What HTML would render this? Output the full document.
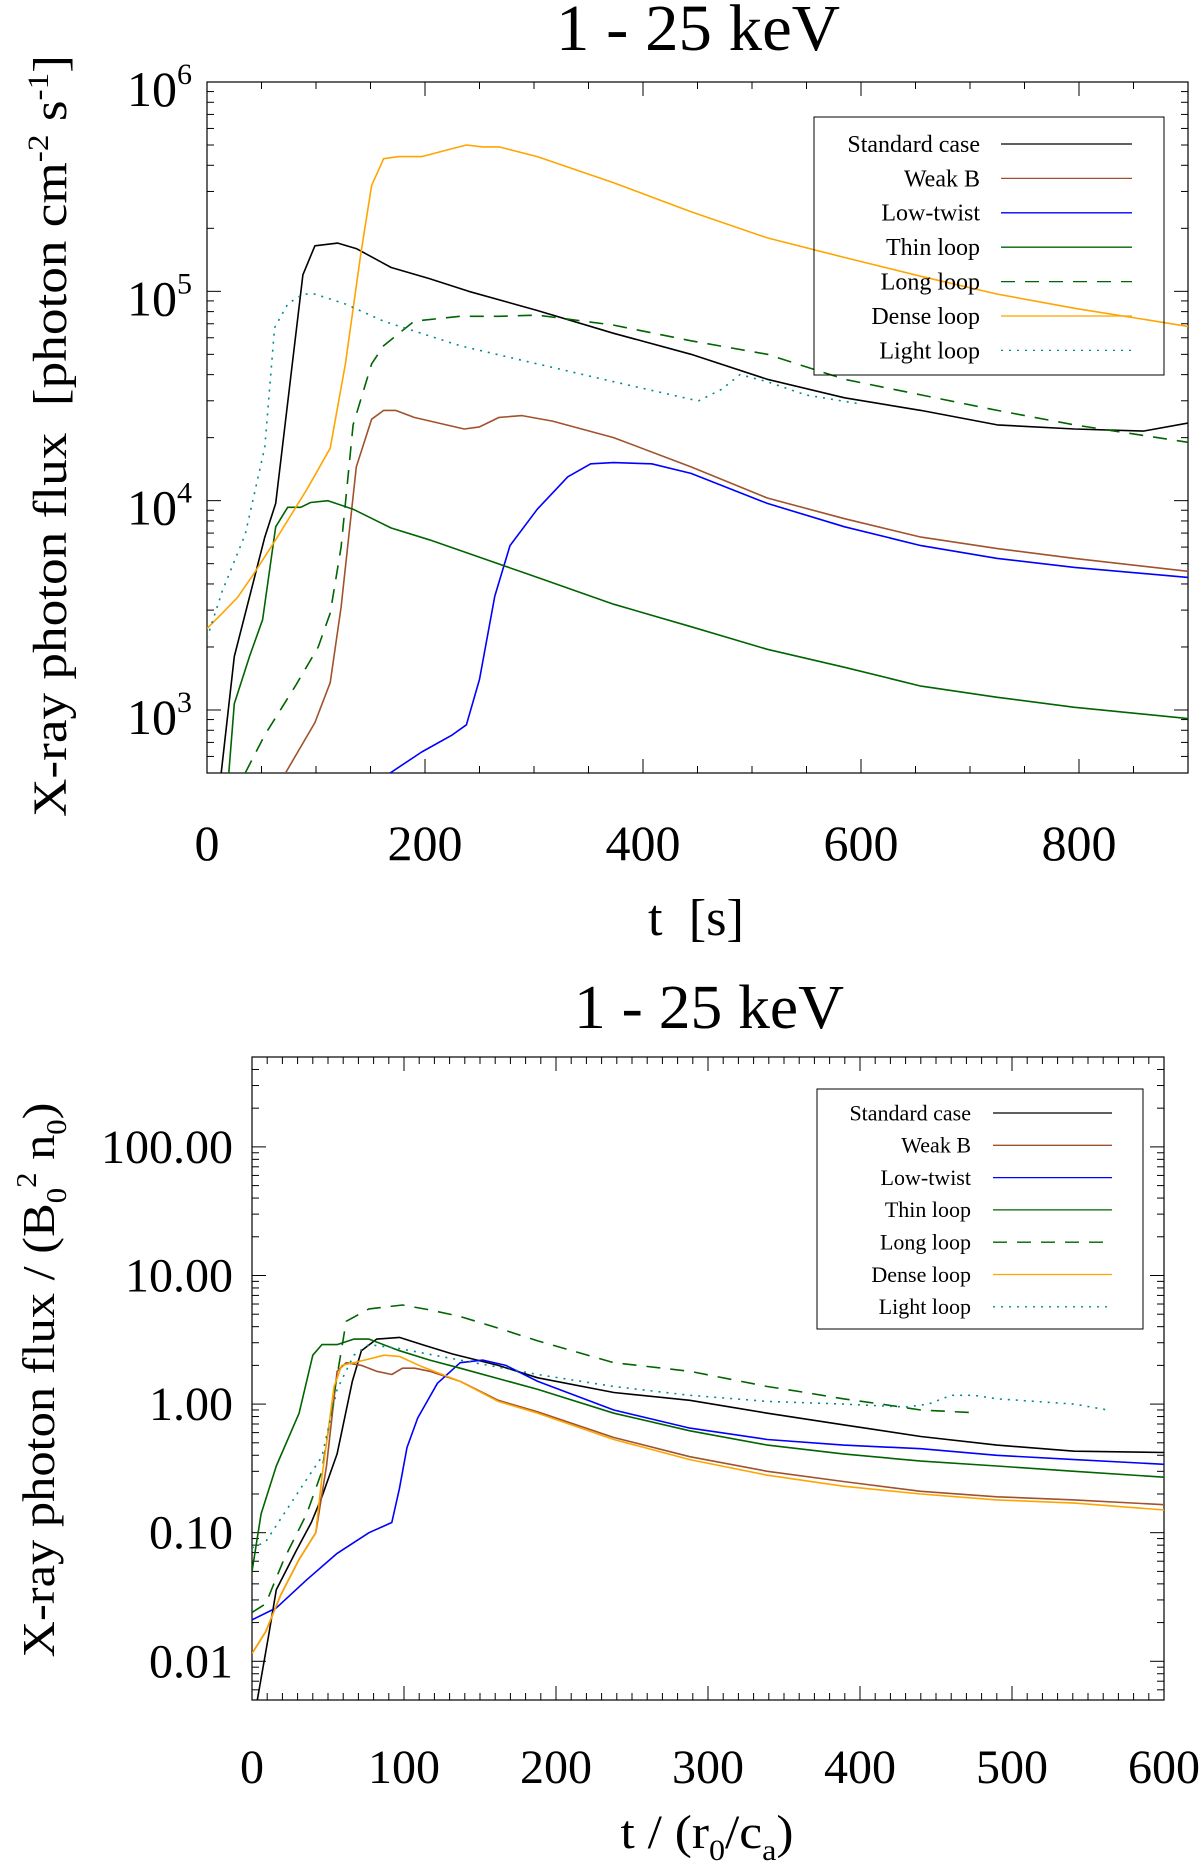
<!DOCTYPE html>
<html><head><meta charset="utf-8">
<style>
html,body{margin:0;padding:0;background:#fff;}
svg{display:block;font-family:"Liberation Serif",serif;}
</style></head>
<body>
<svg id="chart" width="1200" height="1869" viewBox="0 0 1200 1869" xmlns="http://www.w3.org/2000/svg">
<defs>
<clipPath id="clipTop"><rect x="207" y="82" width="981" height="691"/></clipPath>
<clipPath id="clipBot"><rect x="252" y="1057" width="912" height="643"/></clipPath>
</defs>
<rect width="1200" height="1869" fill="#fff"/>
<g id="top"></g>
<g id="bot"></g>
</svg>
<script>
const seriesNames = ["Standard case","Weak B","Low-twist","Thin loop","Long loop","Dense loop","Light loop"];
const topTicksX = [0,200,400,600,800];
const topTicksYExp = [3,4,5,6];
const botTicksX = [0,100,200,300,400,500,600];
const botTickLabelsY = ["0.01","0.10","1.00","10.00","100.00"];
const botTicksY = [0.01,0.1,1,10,100];

const topT_std = [13,25,53,63,88,99,120,137,169,204,240,303,373,444,514,585,655,725,796,859,900];
const topF_std = [500,1800,6700,9700,120000,165000,170000,160000,130000,115000,100000,81000,63000,50000,38000,31000,27000,23000,22000,21500,23500];
const topT_weak = [72,99,113,123,137,151,162,173,190,236,250,268,289,317,373,444,514,585,655,725,796,900];
const topF_weak = [500,870,1350,3100,14500,24500,27000,27000,25000,22000,22500,25000,25500,24000,20000,14500,10300,8200,6700,5900,5300,4600];
const topT_low = [168,197,225,238,250,264,278,303,331,352,373,408,444,514,585,655,725,796,900];
const topF_low = [500,630,760,850,1400,3500,6100,9100,13000,15000,15200,15000,13500,9700,7500,6100,5300,4800,4300];
const topT_thin = [20,25,39,51,63,74,86,95,111,134,169,204,253,303,373,444,514,585,655,725,796,900];
const topF_thin = [500,1070,1800,2700,7500,9300,9300,9800,10000,9100,7400,6500,5300,4300,3200,2500,1950,1600,1300,1150,1030,910];
const topT_long = [35,53,81,102,113,123,134,151,162,190,232,268,303,373,444,514,585,655,725,796,900];
const topF_long = [500,760,1300,2000,2900,6000,23000,45000,55000,72000,76000,76000,77000,69000,58000,50000,38000,32000,27000,23000,19000];
const topT_dense = [0,14,28,42,63,92,113,127,141,151,162,176,197,218,238,253,268,303,373,444,514,585,655,725,796,900];
const topF_dense = [2450,2900,3450,4400,6500,11400,17800,45000,150000,320000,430000,440000,440000,470000,500000,490000,490000,440000,330000,240000,180000,145000,118000,97000,83000,68000];
const topT_light = [0,14,35,53,62,74,88,99,127,162,232,303,373,444,451,472,489,514,549,599];
const topF_light = [2200,3700,6900,18000,67000,87000,97000,97000,87000,72000,55000,45000,37000,30500,30000,34000,40000,37000,32000,29000];

const botT_std = [3.5,11,16,29,39,46,56,66,72,82,97,112,132,162,188,238,288,339,389,440,490,541,600];
const botF_std = [0.005,0.016,0.036,0.072,0.12,0.19,0.41,1.5,2.6,3.2,3.3,2.9,2.45,2.0,1.6,1.23,1.07,0.85,0.69,0.56,0.48,0.43,0.42];
const botT_weak = [0,9,19,31,42,49,56,62,72,82,92,99,107,117,137,162,188,238,288,339,389,440,490,541,600];
const botF_weak = [0.0115,0.017,0.033,0.062,0.1,0.33,1.8,2.1,2.0,1.8,1.7,1.9,1.9,1.8,1.5,1.07,0.87,0.55,0.39,0.3,0.25,0.21,0.19,0.18,0.165];
const botT_low = [0,16,36,56,77,92,97,102,109,122,137,152,167,188,238,288,339,389,440,490,541,600];
const botF_low = [0.021,0.026,0.043,0.069,0.1,0.12,0.22,0.46,0.78,1.45,2.1,2.2,2.0,1.5,0.9,0.65,0.53,0.48,0.45,0.4,0.37,0.34];
const botT_thin = [0,6,16,31,40,46,56,67,77,97,117,137,188,238,288,339,389,440,490,541,600];
const botF_thin = [0.05,0.14,0.33,0.85,2.4,2.9,2.9,3.2,3.2,2.6,2.2,1.9,1.3,0.85,0.62,0.48,0.41,0.36,0.33,0.3,0.27];
const botT_long = [0,9,21,36,46,54,62,77,99,117,137,162,188,238,288,339,364,389,414,440,472];
const botF_long = [0.024,0.028,0.062,0.14,0.3,1.2,4.4,5.5,5.9,5.4,4.8,3.9,3.1,2.1,1.8,1.37,1.23,1.1,1.0,0.9,0.86];
const botT_dense = [0,9,19,31,42,46,54,59,67,74,87,97,112,137,162,188,238,288,339,389,440,490,541,600];
const botF_dense = [0.0115,0.017,0.033,0.062,0.1,0.27,1.37,2.0,2.1,2.2,2.4,2.35,1.95,1.5,1.05,0.85,0.53,0.37,0.28,0.23,0.2,0.18,0.17,0.15];
const botT_light = [0,9,21,36,46,56,67,77,97,137,188,238,288,339,389,430,445,460,475,490,541,563];
const botF_light = [0.076,0.085,0.14,0.26,0.39,1.3,2.4,2.9,2.7,2.2,1.7,1.37,1.17,1.05,1.0,0.95,1.0,1.17,1.17,1.1,1.0,0.9];

const NS = "http://www.w3.org/2000/svg";
function mk(parent, tag, attrs){
  const e = document.createElementNS(NS, tag);
  for (const k in attrs) e.setAttribute(k, attrs[k]);
  parent.appendChild(e);
  return e;
}
const styles = [
  {c:"#000000", d:""},
  {c:"#a0522d", d:""},
  {c:"#0000ff", d:""},
  {c:"#006400", d:""},
  {c:"#006400", d:"14 10"},
  {c:"#ffa500", d:""},
  {c:"#008b8b", d:"2 6"}
];

function panel(g, cfg){
  const L=cfg.L,R=cfg.R,T=cfg.T,B=cfg.B;
  const sx = v => L + (v - cfg.xmin)/(cfg.xmax - cfg.xmin)*(R-L);
  const sy = v => B - (Math.log10(v) - cfg.lmin)/(cfg.lmax - cfg.lmin)*(B-T);
  const fr = mk(g,"rect",{x:L,y:T,width:R-L,height:B-T,fill:"none",stroke:"#000","stroke-width":1.2});
  
  
  for (let v=cfg.xmin; v<=cfg.xmax+1e-9; v+=cfg.xminor){
    const major = Math.abs(v/cfg.xmajor - Math.round(v/cfg.xmajor))<1e-6;
    const len = major?14:7;
    const x = sx(v);
    mk(g,"line",{x1:x,y1:B,x2:x,y2:B-len,stroke:"#000","stroke-width":1});
    mk(g,"line",{x1:x,y1:T,x2:x,y2:T+len,stroke:"#000","stroke-width":1});
  }
  cfg.xticks.forEach(v=>{
    const t = mk(g,"text",{x:sx(v),y:cfg.xlabY,"text-anchor":"middle","font-size":cfg.tickFs});
    t.textContent = v;
    
    
  });
  for (let e=Math.floor(cfg.lmin); e<=Math.ceil(cfg.lmax); e++){
    for (let m=1;m<10;m++){
      const v = m*Math.pow(10,e);
      const lv = Math.log10(v);
      if (lv < cfg.lmin-1e-9 || lv > cfg.lmax+1e-9) continue;
      const len = m===1?14:7;
      const y = sy(v);
      mk(g,"line",{x1:L,y1:y,x2:L+len,y2:y,stroke:"#000","stroke-width":1});
      mk(g,"line",{x1:R,y1:y,x2:R-len,y2:y,stroke:"#000","stroke-width":1});
    }
  }
  cfg.yTickLabels(g, sy);
  const cg = mk(g,"g",{"clip-path":"url(#"+cfg.clip+")"});
  cfg.series.forEach((s,i)=>{
    const ts=s[0], fs=s[1];
    let d="";
    for (let k=0;k<ts.length;k++) d += (k?"L":"M")+sx(ts[k]).toFixed(1)+","+sy(fs[k]).toFixed(1);
    const p = mk(cg,"path",{d:d,fill:"none",stroke:styles[i].c,"stroke-width":1.6,"stroke-linejoin":"round"});
    if (styles[i].d) p.setAttribute("stroke-dasharray", styles[i].d);
    
    
  });
  const lg = cfg.leg;
  const lb = mk(g,"rect",{x:lg.x1,y:lg.y1,width:lg.x2-lg.x1,height:lg.y2-lg.y1,fill:"none",stroke:"#000","stroke-width":1});
  
  
  seriesNames.forEach((n,i)=>{
    const y = lg.y0 + i*lg.dy;
    const t = mk(g,"text",{x:lg.tx,y:y+lg.fs*0.33,"text-anchor":"end","font-size":lg.fs});
    t.textContent = n;
    
    
    const ln = mk(g,"line",{x1:lg.lx1,y1:y,x2:lg.lx2,y2:y,stroke:styles[i].c,"stroke-width":1.3});
    if (styles[i].d) ln.setAttribute("stroke-dasharray", styles[i].d);
  });
}

const gTop = document.getElementById("top");
panel(gTop,{
  id:"top", L:207,R:1188,T:82,B:773,xmin:0,xmax:900,lmin:Math.log10(500),lmax:6,
  xminor:50,xmajor:200,xticks:topTicksX,xlabY:860,tickFs:50,clip:"clipTop",
  series:[[topT_std,topF_std],[topT_weak,topF_weak],[topT_low,topF_low],[topT_thin,topF_thin],[topT_long,topF_long],[topT_dense,topF_dense],[topT_light,topF_light]],
  yTickLabels:(g,sy)=>{
    topTicksYExp.forEach(e=>{
      const t = mk(g,"text",{x:192,y:sy(Math.pow(10,e))+24,"text-anchor":"end","font-size":50});
      
      
      const a = mk(t,"tspan",{}); a.textContent="10";
      const b = mk(t,"tspan",{dy:-22,"font-size":30}); b.textContent=e;
    });
  },
  leg:{x1:814,y1:117,x2:1164,y2:375,y0:144,dy:34.4,tx:980,lx1:1001,lx2:1132,fs:24}
});

const gBot = document.getElementById("bot");
panel(gBot,{
  id:"bottom", L:252,R:1164,T:1057,B:1700,xmin:0,xmax:600,lmin:Math.log10(0.005),lmax:Math.log10(500),
  xminor:10,xmajor:100,xticks:botTicksX,xlabY:1783,tickFs:48,clip:"clipBot",
  series:[[botT_std,botF_std],[botT_weak,botF_weak],[botT_low,botF_low],[botT_thin,botF_thin],[botT_long,botF_long],[botT_dense,botF_dense],[botT_light,botF_light]],
  yTickLabels:(g,sy)=>{
    botTicksY.forEach((v,i)=>{
      const t = mk(g,"text",{x:233,y:sy(v)+16,"text-anchor":"end","font-size":48});
      t.textContent = botTickLabelsY[i];
      
      
    });
  },
  leg:{x1:817,y1:1089,x2:1143,y2:1329,y0:1113,dy:32.3,tx:971,lx1:993,lx2:1112,fs:22}
});

function txt(html, attrs, name){
  const t = mk(document.getElementById("chart"),"text",attrs);
  t.innerHTML = html;
  
  
  return t;
}
txt("1 - 25 keV",{x:698,y:50,"text-anchor":"middle","font-size":66,textLength:284,lengthAdjust:"spacingAndGlyphs"},"top-title");
txt("t&#160;&#160;[s]",{x:696,y:935,"text-anchor":"middle","font-size":52,textLength:96,lengthAdjust:"spacingAndGlyphs"},"top-x-axis-title");
txt('X-ray photon flux&#160;&#160;[photon cm<tspan dy="-18" font-size="30">-2</tspan><tspan dy="18"> s</tspan><tspan dy="-18" font-size="30">-1</tspan><tspan dy="18">]</tspan>',
  {x:0,y:0,"text-anchor":"middle","font-size":48,transform:"translate(66,436) rotate(-90)",textLength:762,lengthAdjust:"spacingAndGlyphs"},"top-y-axis-title");
txt("1 - 25 keV",{x:709,y:1028,"text-anchor":"middle","font-size":62,textLength:270,lengthAdjust:"spacingAndGlyphs"},"bottom-title");
txt('t / (r<tspan dy="12" font-size="30">0</tspan><tspan dy="-12">/c</tspan><tspan dy="12" font-size="30">a</tspan><tspan dy="-12">)</tspan>',
  {x:707,y:1848,"text-anchor":"middle","font-size":48,textLength:173,lengthAdjust:"spacingAndGlyphs"},"bottom-x-axis-title");
txt('X-ray photon flux / (B<tspan dy="12" font-size="28">0</tspan><tspan dy="-30" font-size="28">2</tspan><tspan dy="18"> n</tspan><tspan dy="12" font-size="28">0</tspan><tspan dy="-12">)</tspan>',
  {x:0,y:0,"text-anchor":"middle","font-size":46,transform:"translate(54,1380) rotate(-90)",textLength:555,lengthAdjust:"spacingAndGlyphs"},"bottom-y-axis-title");
</script>
</body></html>
